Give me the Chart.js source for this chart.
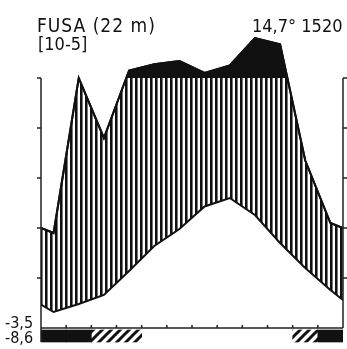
<!DOCTYPE html>
<html>
<head>
<meta charset="utf-8">
<script src="https://cdn.jsdelivr.net/npm/chart.js@4.4.0/dist/chart.umd.min.js"></script>
<style>
  body { margin: 0; background: #fff; }
  #wrap { position: relative; width: 347px; height: 349px; }
  .lbl { position: absolute; font-family: "DejaVu Sans Condensed", "DejaVu Sans", sans-serif; color: #111; white-space: nowrap; line-height: 1; }
</style>
</head>
<body>
<div id="wrap">
  <canvas id="climate" width="347" height="349"></canvas>
  <div class="lbl" id="station" style="left:37px;top:16px;font-size:19px;letter-spacing:1px;"></div>
  <div class="lbl" id="years" style="left:38px;top:35px;font-size:18px;"></div>
  <div class="lbl" id="summary" style="left:252px;top:17px;font-size:18px;"></div>
  <div class="lbl" id="minA" style="left:5px;top:315px;font-size:16px;"></div>
  <div class="lbl" id="minB" style="left:5px;top:330px;font-size:16px;"></div>
</div>
<script>
var months = ['Jan', 'Feb', 'Mar', 'Apr', 'May', 'Jun', 'Jul', 'Aug', 'Sep', 'Oct', 'Nov', 'Dec'];
var temperature = [3.2, 4.8, 6.6, 11.4, 16.4, 19.8, 24.3, 26.0, 22.6, 17.0, 12.0, 7.6];   // °C
var precipitation = [38, 100, 76, 130, 155, 168, 120, 150, 260, 235, 67, 42];          // mm
var tempEdges = [4.7, 5.6];      // where the curves meet the left / right axis
var precipEdges = [40, 40];
var frostSure = [1, 1, 0, 0, 0, 0, 0, 0, 0, 0, 0, 1];
var frostPossible = [0, 0, 1, 1, 0, 0, 0, 0, 0, 0, 1, 0];

var stationName = 'FUSA (22 m)';
var yearsLabel = '[10-5]';
var summaryLabel = '14,7° 1520';
var minLabels = ['-3,5', '-8,6'];

document.getElementById('station').textContent = stationName;
document.getElementById('years').textContent = yearsLabel;
document.getElementById('summary').textContent = summaryLabel;
document.getElementById('minA').textContent = minLabels[0];
document.getElementById('minB').textContent = minLabels[1];

// Walter-Lieth: 10 °C = 20 mm, above 100 mm the scale is 1:10
function mm(v) { return v <= 100 ? v : 100 + (v - 100) / 10; }
function degC(v) { return v * 2; }

function series(edges, values, f) {
    var pts = [{x: 0, y: f(edges[0])}];
    values.forEach(function (v, i) { pts.push({x: i + 0.5, y: f(v)}); });
    pts.push({x: 12, y: f(edges[1])});
    return pts;
}

function verticalHatch() {
    var c = document.createElement('canvas');
    c.width = 5; c.height = 10;
    var g = c.getContext('2d');
    g.fillStyle = '#111';
    g.fillRect(0, 0, 2, 10);
    g.fillStyle = '#777';
    g.fillRect(2, 0, 1, 10);
    return g.createPattern(c, 'repeat');
}

function diagonalHatch() {
    var s = 9;
    var c = document.createElement('canvas');
    c.width = s; c.height = s;
    var g = c.getContext('2d');
    g.strokeStyle = '#111';
    g.lineWidth = 3;
    g.beginPath();
    g.moveTo(0, s); g.lineTo(s, 0);
    g.moveTo(-s / 2, s / 2); g.lineTo(s / 2, -s / 2);
    g.moveTo(s / 2, s * 1.5); g.lineTo(s * 1.5, s / 2);
    g.stroke();
    return g.createPattern(c, 'repeat');
}

var frostBand = [-5.6, -0.8];

var axesPlugin = {
    id: 'axes',
    afterDatasetsDraw: function (chart) {
        var ctx = chart.ctx, x = chart.scales.x, y = chart.scales.y;
        var x0 = x.getPixelForValue(0), x1 = x.getPixelForValue(12);
        var top = y.getPixelForValue(100), base = y.getPixelForValue(0);
        ctx.save();
        ctx.strokeStyle = '#222';
        ctx.lineWidth = 1.5;
        ctx.beginPath();
        ctx.moveTo(x0, top); ctx.lineTo(x0, y.getPixelForValue(frostBand[0]));
        ctx.moveTo(x1, top); ctx.lineTo(x1, base);
        ctx.moveTo(x0, base); ctx.lineTo(x1, base);
        for (var v = 20; v <= 100; v += 20) {
            var py = y.getPixelForValue(v);
            ctx.moveTo(x0 - 4, py); ctx.lineTo(x0, py);
            ctx.moveTo(x1, py); ctx.lineTo(x1 + 4, py);
        }
        for (var m = 1; m < 12; m++) {
            var px = x.getPixelForValue(m);
            ctx.moveTo(px, base); ctx.lineTo(px, base - 3);
        }
        ctx.stroke();
        ctx.restore();
    }
};

var ctx = document.getElementById('climate').getContext('2d');
var myChart = new Chart(ctx, {
    type: 'line',
    data: {
        labels: months,
        datasets: [{
            label: 'Temperature',
            data: series(tempEdges, temperature, degC),
            borderColor: '#111',
            borderWidth: 2,
            pointRadius: 0,
            fill: false,
            order: 0
        }, {
            label: 'Precipitation > 100 mm',
            data: series(precipEdges, precipitation, mm),
            borderColor: '#111',
            borderWidth: 2,
            pointRadius: 0,
            fill: {target: {value: 100}, above: '#111', below: 'rgba(0,0,0,0)'},
            order: 1
        }, {
            label: 'Humid period',
            data: series(precipEdges, precipitation, mm),
            borderColor: '#111',
            borderWidth: 2,
            pointRadius: 0,
            fill: {target: 0, above: verticalHatch(), below: 'rgba(0,0,0,0)'},
            order: 2
        }, {
            type: 'bar',
            label: 'Frost',
            xAxisID: 'x2',
            data: frostSure.map(function (f) { return f ? frostBand : null; }),
            backgroundColor: '#111',
            barPercentage: 1,
            categoryPercentage: 1,
            grouped: false,
            order: 3
        }, {
            type: 'bar',
            label: 'Possible frost',
            xAxisID: 'x2',
            data: frostPossible.map(function (f) { return f ? frostBand : null; }),
            backgroundColor: diagonalHatch(),
            barPercentage: 1,
            categoryPercentage: 1,
            grouped: false,
            order: 3
        }]
    },
    options: {
        responsive: false,
        animation: false,
        devicePixelRatio: 1,
        layout: {padding: {left: 41, right: 4, top: 28, bottom: 1}},
        scales: {
            x: {type: 'linear', min: 0, max: 12, display: false},
            x2: {type: 'category', labels: months, offset: true, display: false},
            y: {min: -8, max: 120, display: false}
        },
        plugins: {legend: {display: false}, tooltip: {enabled: false}}
    },
    plugins: [axesPlugin]
});
</script>
</body>
</html>
